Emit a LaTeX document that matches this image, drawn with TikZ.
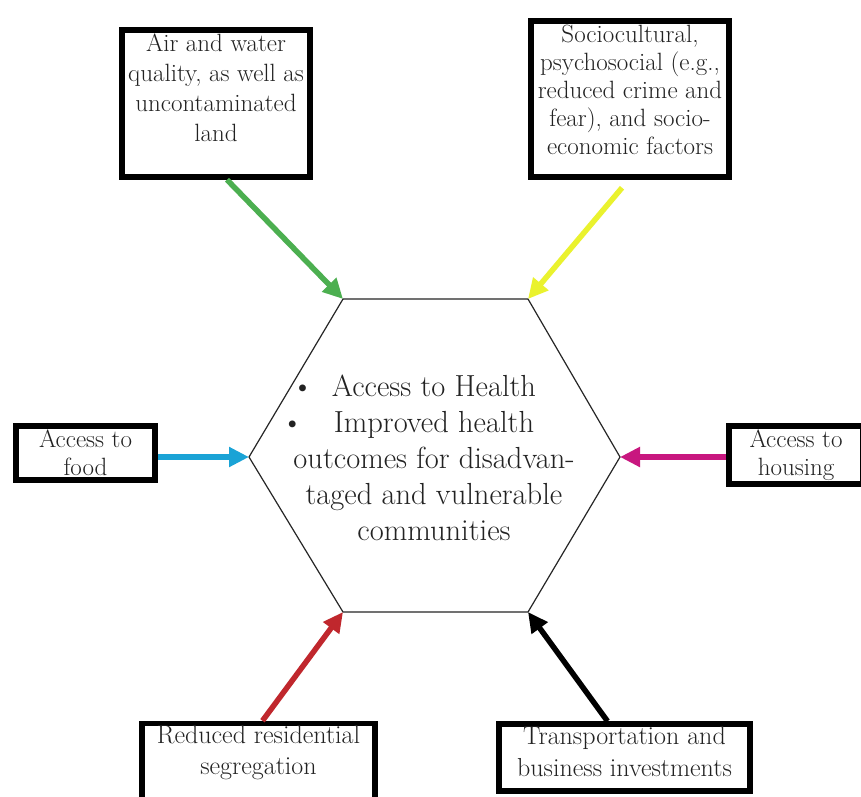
\documentclass[tikz,border=0pt]{standalone}
\usepackage{fontspec}
\usepackage{tikz}
\usetikzlibrary{arrows.meta,calc}
\definecolor{airgreen}{HTML}{4CAF50}
\definecolor{socialyellow}{HTML}{EAF22E}
\definecolor{foodblue}{HTML}{1AA3D6}
\definecolor{housemagenta}{HTML}{C8177F}
\definecolor{segred}{HTML}{C0272D}
\definecolor{ink}{HTML}{222222}

\begin{document}
\begin{tikzpicture}[
  x=1pt, y=-1pt,
  factor/.style={draw=black, line width=5.5pt, align=center, inner sep=2pt, fill=white,
                 text=ink, font=\fontsize{25}{28}\selectfont},
  hub/.style={align=center, text=ink, font=\fontsize{30.5}{36}\selectfont},
  hexline/.style={draw=black!85, line width=1.2pt},
  push/.style={-{Triangle[length=20pt,width=19pt]}, line width=5.5pt},
]
\path[use as bounding box, fill=white] (0,0) rectangle (861,796);

\coordinate (hnw) at (343,299);
\coordinate (hne) at (528,299);
\coordinate (he)  at (620,457);
\coordinate (hse) at (528,612);
\coordinate (hsw) at (343,612);
\coordinate (hw)  at (249,457);
\draw[hexline] (hnw) -- (hne) -- (he) -- (hse) -- (hsw) -- (hw) -- cycle;

\node[hub] (health) at (434,458)
  {\llap{\textbullet\hspace{0.6em}}Access to Health\\ \llap{\textbullet\hspace{1em}}Improved health\\
   outcomes for disadvan-\\ taged and vulnerable\\ communities};

\node[factor, minimum width=188pt, minimum height=147pt, text depth=31pt,
      font=\fontsize{25}{30}\selectfont] (air) at (216,103.5)
  {Air and water\\ quality, as well as\\ uncontaminated\\ land};
\node[factor, minimum width=198pt, minimum height=156pt, text depth=18pt] (social) at (630,99)
  {Sociocultural,\\ psychosocial (e.g.,\\ reduced crime and\\ fear), and socio-\\ economic factors};
\node[factor, minimum width=139pt, minimum height=54pt] (food) at (85.5,453) {Access to\\ food};
\node[factor, minimum width=134pt, minimum height=58pt] (housing) at (796,455) {Access to\\ housing};
\node[factor, minimum width=233pt, minimum height=74pt, text depth=24pt,
      font=\fontsize{26}{31}\selectfont] (segr) at (258.5,762)
  {Reduced residential\\ segregation};
\node[factor, minimum width=251pt, minimum height=65pt, text depth=13pt,
      font=\fontsize{26}{32}\selectfont] (invest) at (624.5,757.5)
  {Transportation and\\ business investments};

\draw[push, airgreen] ([xshift=11pt]air.south) -- (hnw);
\draw[push, socialyellow] ([xshift=-8pt,yshift=-8pt]social.south) -- (hne);
\draw[push, foodblue] (food.east |- hw) -- (hw);
\draw[push, housemagenta] (housing.west |- he) -- (he);
\draw[push, segred] ([xshift=4pt]segr.north) -- (hsw);
\draw[push, black] ([xshift=-17pt]invest.north) -- (hse);
\end{tikzpicture}
\end{document}
